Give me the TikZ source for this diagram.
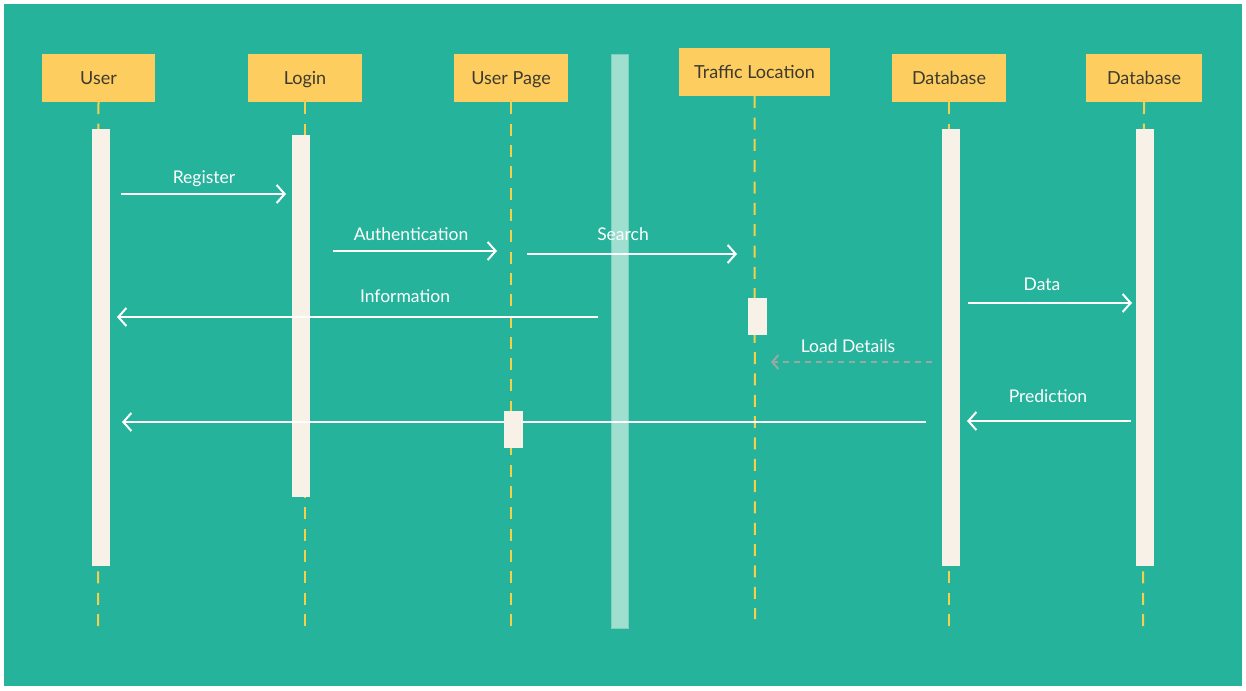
\documentclass[tikz,border=0pt]{standalone}
\usepackage{fontspec}
\setmainfont{Lato}
\usetikzlibrary{arrows.meta}
\definecolor{bgteal}{HTML}{26B39C}
\definecolor{hdr}{HTML}{FDCD5F}
\definecolor{hdrtext}{HTML}{3D3A2F}
\definecolor{cream}{HTML}{F8F1E8}
\definecolor{sep}{HTML}{9FDFCF}
\definecolor{sepedge}{HTML}{7FCFBC}
\definecolor{lifel}{HTML}{F5D04A}
\definecolor{dashgray}{HTML}{9AA8A4}
\tikzset{
  hdrbox/.style={fill=hdr, draw=none, minimum height=48pt, inner sep=0pt, text=hdrtext, font=\fontsize{18}{21}\selectfont, text height=15pt, text depth=1pt},
  actbar/.style={fill=cream, draw=none, minimum width=18pt, inner sep=0pt},
  lifeline/.style={draw=lifel, line width=2pt, dash pattern=on 12pt off 9.33pt},
  msg/.style={draw=white, line width=2pt, -{Straight Barb[length=8pt,width=18pt,line width=2pt]}},
  retmsg/.style={draw=dashgray, line width=2pt, dash pattern=on 6pt off 5pt, -{Straight Barb[length=6pt,width=14pt,line width=2pt]}},
  lbl/.style={text=white, font=\fontsize{17.5}{20}\selectfont, inner sep=0pt, text height=13pt, text depth=0.5pt}
}
\begin{document}
\begin{tikzpicture}[x=1pt,y=-1pt]
\useasboundingbox (0,0) rectangle (1246,690);
\fill[white] (0,0) rectangle (1246,690);
\fill[bgteal] (4,4) rectangle (1242,686);

% header boxes
\node[hdrbox, minimum width=113pt] (huser) at (98.5,78) {User};
\node[hdrbox, minimum width=114pt] (hlogin) at (305,78) {Login};
\node[hdrbox, minimum width=114pt] (hpage) at (511,78) {User Page};
\node[hdrbox, minimum width=151pt] (htraffic) at (754.5,72) {Traffic Location};
\node[hdrbox, minimum width=114pt] (hdb) at (949,78) {Database};
\node[hdrbox, minimum width=116pt] (hdbb) at (1144,78) {Database};

% lifeline ends
\coordinate (euser) at (98,626);
\coordinate (elogin) at (305,626);
\coordinate (epage) at (511,626);
\coordinate (etraffic) at (755,619);
\coordinate (edb) at (949,626);
\coordinate (edbb) at (1143,626);

\draw[lifeline] (huser.south) -- (euser);
\draw[lifeline] (hlogin.south) -- (elogin);
\draw[lifeline] (hpage.south) -- (epage);
\draw[lifeline] (htraffic.south) -- (etraffic);
\draw[lifeline] (hdb.south) -- (edb);
\draw[lifeline] (hdbb.south) -- (edbb);

% separator bar
\node[fill=sep, draw=sepedge, line width=1pt, minimum width=17pt, minimum height=574pt, inner sep=0pt] (sepbar) at (620,341.5) {};

% activation bars
\node[actbar, minimum height=437pt] (auser) at (101,347.5) {};
\node[actbar, minimum height=362pt] (alogin) at (301,316) {};
\node[actbar, minimum height=437pt] (adb) at (951,347.5) {};
\node[actbar, minimum height=437pt] (adbb) at (1145,347.5) {};

% message end points
\coordinate (r1) at (121,194);  \coordinate (r2) at (286,194);
\coordinate (a1) at (333,251);  \coordinate (a2) at (497,251);
\coordinate (s1) at (527,254);  \coordinate (s2) at (737,254);
\coordinate (i1) at (598,317);  \coordinate (i2) at (117,317);
\coordinate (d1) at (968,303);  \coordinate (d2) at (1132,303);
\coordinate (l1) at (932,362);  \coordinate (l2) at (771,362);
\coordinate (p1) at (1131,421); \coordinate (p2) at (967,421);
\coordinate (b1) at (926,422);  \coordinate (b2) at (122,422);

\draw[msg] (r1) -- (r2);
\draw[msg] (a1) -- (a2);
\draw[msg] (s1) -- (s2);
\draw[msg] (i1) -- (i2);
\draw[msg] (d1) -- (d2);
\draw[retmsg] (l1) -- (l2);
\draw[msg] (p1) -- (p2);
\draw[msg] (b1) -- (b2);

% small activation boxes
\node[actbar, minimum width=19pt, minimum height=37pt] (atraffic) at (757.5,316.5) {};
\node[actbar, minimum width=19pt, minimum height=37pt] (apage) at (513.5,429.5) {};

% labels
\node[lbl] (tr) at (204,177) {Register};
\node[lbl] (ta) at (411,234) {Authentication};
\node[lbl] (ts) at (623,234) {Search};
\node[lbl] (ti) at (405,296) {Information};
\node[lbl] (td) at (1042,284) {Data};
\node[lbl] (tl) at (848,346) {Load Details};
\node[lbl] (tp) at (1048,396) {Prediction};
\end{tikzpicture}
\end{document}
